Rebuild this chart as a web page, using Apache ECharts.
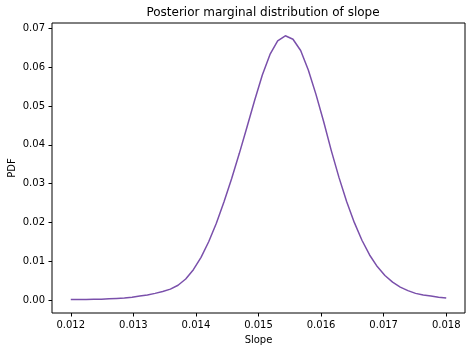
<!DOCTYPE html>
<html>
<head>
<meta charset="utf-8">
<script src="https://cdn.jsdelivr.net/npm/echarts@6/dist/echarts.min.js"></script>
<style>
  html, body { margin: 0; padding: 0; background: #fff; }
  #chart { width: 472px; height: 352px; }
</style>
</head>
<body>
<div id="chart"></div>
<script>
// slope grid: 50 points from 0.012 to 0.018
const slopeStart = 0.012
const slopeEnd = 0.018
const nPoints = 50

// PDF values
const pdfValues = [
  0.0001, 0.0001, 0.0001, 0.0002, 0.0002, 0.0003, 0.0004, 0.0005, 0.0007, 0.0010,
  0.0013, 0.0017, 0.0022, 0.0028, 0.0038, 0.0054, 0.0078, 0.0110, 0.0150, 0.0198,
  0.0253, 0.0313, 0.0378, 0.0446, 0.0515, 0.0580, 0.0633, 0.0668, 0.0681, 0.0672,
  0.0643, 0.0593, 0.0530, 0.0460, 0.0385, 0.0316, 0.0254, 0.0200, 0.0154, 0.0116,
  0.0086, 0.0063, 0.0046, 0.0033, 0.0024, 0.0017, 0.0013, 0.0010, 0.0007, 0.0005
]

const xTicks = [0.012, 0.013, 0.014, 0.015, 0.016, 0.017, 0.018]
const yTicks = [0, 0.01, 0.02, 0.03, 0.04, 0.05, 0.06, 0.07]

const step = (slopeEnd - slopeStart) / (nPoints - 1)
const seriesData = pdfValues.map((v, i) => [slopeStart + i * step, v])

const font = 'DejaVu Sans'
const chart = echarts.init(document.getElementById('chart'), null, { renderer: 'canvas' })

chart.setOption({
  animation: false,
  backgroundColor: '#fff',
  textStyle: { fontFamily: font },
  title: {
    text: 'Posterior marginal distribution of slope',
    left: 258, top: 2, textAlign: 'center',
    textStyle: { fontFamily: font, fontSize: 12, fontWeight: 'normal', color: '#000' }
  },
  grid: {
    left: 52, right: 7, top: 23, bottom: 39,
    outerBoundsMode: 'none',
    show: true, borderColor: '#000', borderWidth: 1, backgroundColor: 'transparent'
  },
  xAxis: {
    type: 'value',
    min: 0.0117, max: 0.0183,
    name: 'Slope', nameLocation: 'middle', nameGap: 22,
    nameTextStyle: { fontFamily: font, fontSize: 10, color: '#000' },
    axisLine: { show: false, onZero: false },
    axisTick: { show: true, length: 3.5, lineStyle: { color: '#000' }, customValues: xTicks },
    axisLabel: {
      fontFamily: font, fontSize: 10, color: '#000', margin: 7,
      customValues: xTicks,
      formatter: v => v.toFixed(3)
    },
    splitLine: { show: false }
  },
  yAxis: {
    type: 'value',
    min: -0.00336, max: 0.0714,
    name: 'PDF', nameLocation: 'middle', nameGap: 35, nameMoveOverlap: false,
    nameTextStyle: { fontFamily: font, fontSize: 10, color: '#000' },
    axisLine: { show: false, onZero: false },
    axisTick: { show: true, length: 3.5, lineStyle: { color: '#000' }, customValues: yTicks },
    axisLabel: {
      fontFamily: font, fontSize: 10, color: '#000', margin: 7,
      customValues: yTicks,
      formatter: v => v.toFixed(2)
    },
    splitLine: { show: false }
  },
  series: [{
    type: 'line',
    data: seriesData,
    showSymbol: false,
    smooth: false,
    lineStyle: { color: '#7a50ab', width: 1.5 }
  }]
})
</script>
</body>
</html>
